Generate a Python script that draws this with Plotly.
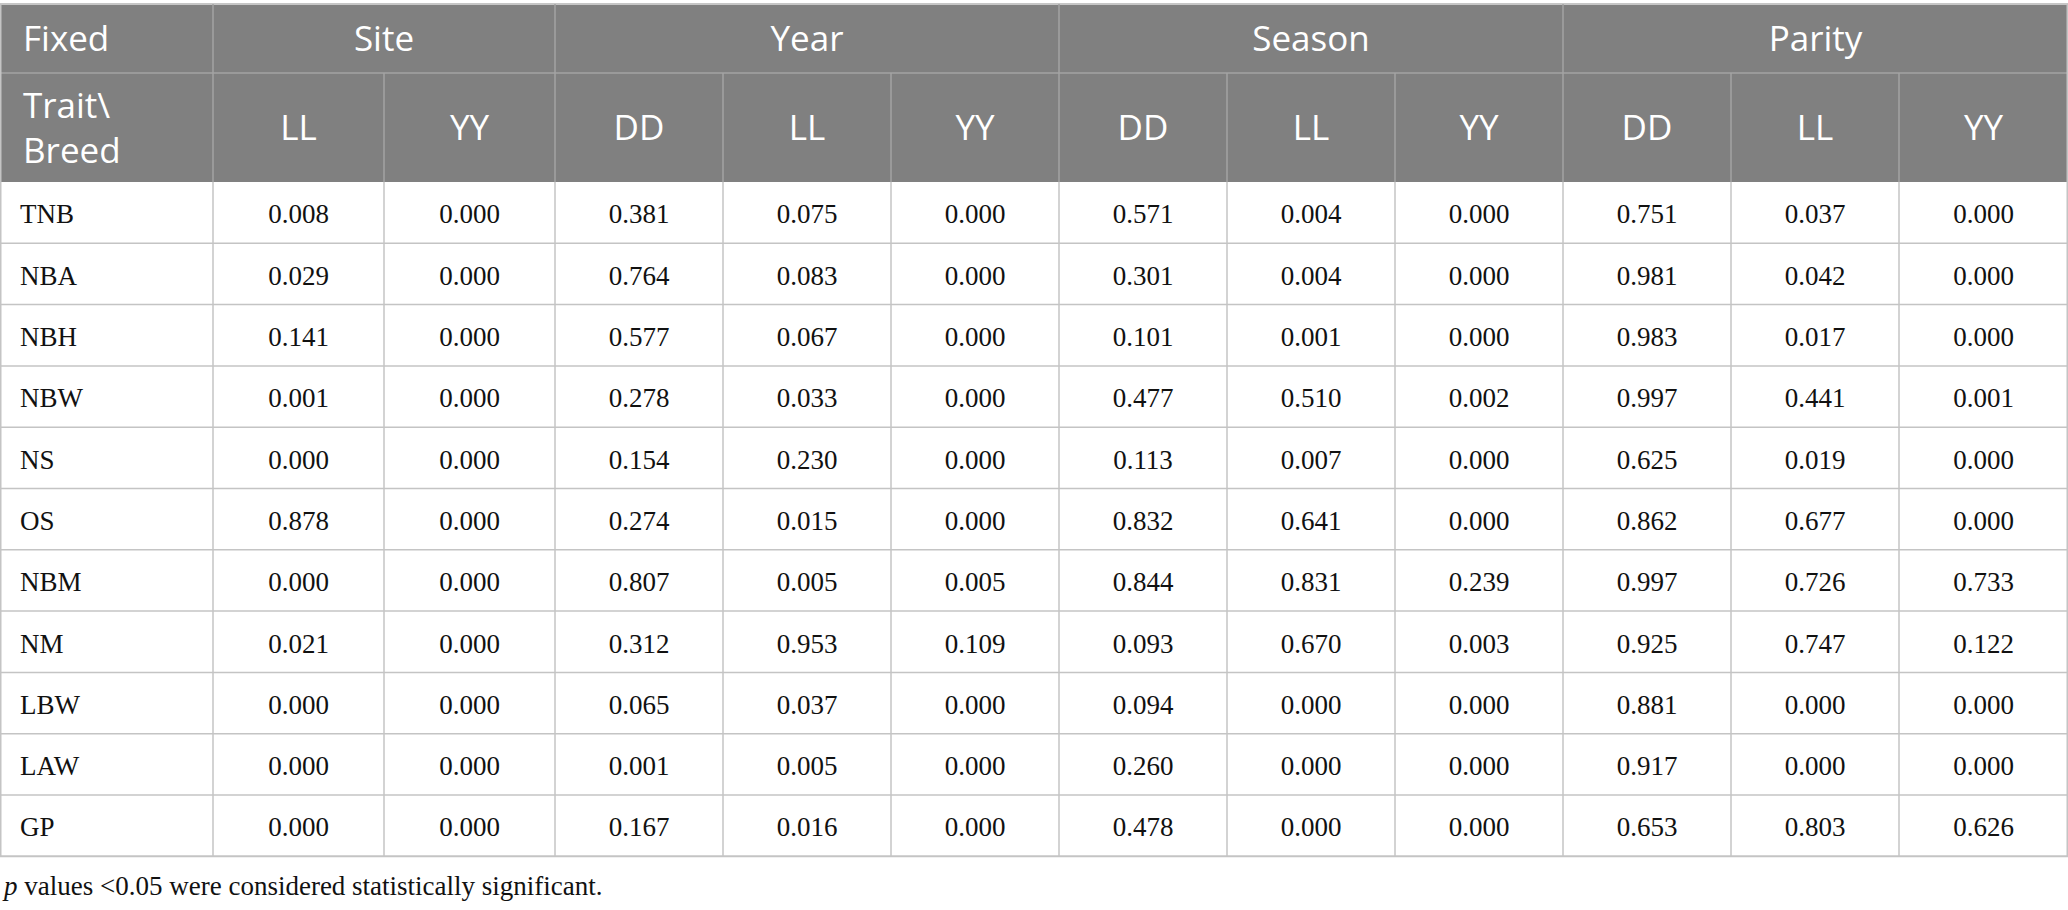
import plotly.graph_objects as go

# p values of fixed effects per trait and breed
factors = ["Site", "Year", "Season", "Parity"]
site_breeds = ["LL", "YY"]
year_breeds = ["DD", "LL", "YY"]
season_breeds = ["DD", "LL", "YY"]
parity_breeds = ["DD", "LL", "YY"]

traits = ["TNB", "NBA", "NBH", "NBW", "NS", "OS", "NBM", "NM", "LBW", "LAW", "GP"]

site_ll = [0.008, 0.029, 0.141, 0.001, 0.000, 0.878, 0.000, 0.021, 0.000, 0.000, 0.000]
site_yy = [0.000, 0.000, 0.000, 0.000, 0.000, 0.000, 0.000, 0.000, 0.000, 0.000, 0.000]
year_dd = [0.381, 0.764, 0.577, 0.278, 0.154, 0.274, 0.807, 0.312, 0.065, 0.001, 0.167]
year_ll = [0.075, 0.083, 0.067, 0.033, 0.230, 0.015, 0.005, 0.953, 0.037, 0.005, 0.016]
year_yy = [0.000, 0.000, 0.000, 0.000, 0.000, 0.000, 0.005, 0.109, 0.000, 0.000, 0.000]
season_dd = [0.571, 0.301, 0.101, 0.477, 0.113, 0.832, 0.844, 0.093, 0.094, 0.260, 0.478]
season_ll = [0.004, 0.004, 0.001, 0.510, 0.007, 0.641, 0.831, 0.670, 0.000, 0.000, 0.000]
season_yy = [0.000, 0.000, 0.000, 0.002, 0.000, 0.000, 0.239, 0.003, 0.000, 0.000, 0.000]
parity_dd = [0.751, 0.981, 0.983, 0.997, 0.625, 0.862, 0.997, 0.925, 0.881, 0.917, 0.653]
parity_ll = [0.037, 0.042, 0.017, 0.441, 0.019, 0.677, 0.726, 0.747, 0.000, 0.000, 0.803]
parity_yy = [0.000, 0.000, 0.000, 0.001, 0.000, 0.000, 0.733, 0.122, 0.000, 0.000, 0.626]

corner_top = "Fixed"
corner_sub = "Trait\\<br>Breed"
footnote = "<i>p</i> values &lt;0.05 were considered statistically significant."

# layout (pixels)
W, H = 2068, 910
HEAD_GRAY = "#808080"
HEAD_LINE = "#a3a3a3"
TOP_LINE = "#c6c6c6"
CELL_LINE = "#c4c4c4"
TEXT = "#111111"
SANS = "Open Sans"
SERIF = "Liberation Serif"
HEAD_SIZE = 35
CELL_SIZE = 27
PAD = 21
TEXT_DY = 4  # text boxes include descent, nudge down to centre the glyphs

first_w = 213
sub_w = [171, 171] + [168] * 8 + [169]
y_top = 4
top_h = 69
sub_h = 109
row_h = 61.3
foot_y = 886

breed_cols = site_breeds + year_breeds + season_breeds + parity_breeds
value_cols = [site_ll, site_yy, year_dd, year_ll, year_yy,
              season_dd, season_ll, season_yy, parity_dd, parity_ll, parity_yy]
group_sizes = [len(site_breeds), len(year_breeds), len(season_breeds), len(parity_breeds)]

# column boundaries
xb = [0, first_w]
for w in sub_w:
    xb.append(xb[-1] + w)
sub_centers = [(xb[k + 1] + xb[k + 2]) / 2 for k in range(len(sub_w))]

group_edges = [first_w]
k = 1
for n in group_sizes:
    k += n
    group_edges.append(xb[k])
group_centers = [(group_edges[g] + group_edges[g + 1]) / 2 for g in range(len(group_sizes))]

y_h1 = y_top + top_h
y_h2 = y_h1 + sub_h
row_edges = [y_h2 + r * row_h for r in range(len(traits) + 1)]
row_centers = [(row_edges[r] + row_edges[r + 1]) / 2 + TEXT_DY for r in range(len(traits))]
y_bottom = row_edges[-1]

fig = go.Figure()

shapes = []
# header background
shapes.append(dict(type="rect", x0=0, x1=W, y0=y_top, y1=y_h2,
                   fillcolor=HEAD_GRAY, line_width=0, layer="below"))


def hline(y, x0, x1, color, width=1.5):
    shapes.append(dict(type="line", x0=x0, x1=x1, y0=y, y1=y,
                       line=dict(color=color, width=width)))


def vline(x, y0, y1, color, width=1.5):
    shapes.append(dict(type="line", x0=x, x1=x, y0=y0, y1=y1,
                       line=dict(color=color, width=width)))


hline(y_top, 0, W, TOP_LINE, 2)
hline(y_h1, 0, W, HEAD_LINE)
for x in group_edges[1:-1] + [first_w]:
    vline(x, y_top, y_h1, HEAD_LINE)
for x in xb[1:-1]:
    vline(x, y_h1, y_h2, HEAD_LINE)

for y in row_edges[1:-1]:
    hline(y, 0, W, CELL_LINE)
hline(y_bottom, 0, W, CELL_LINE, 2)
for x in xb[1:-1]:
    vline(x, y_h2, y_bottom, CELL_LINE)
vline(0.75, y_top, y_bottom, CELL_LINE)
vline(W - 0.75, y_top, y_bottom, CELL_LINE)

# header text: merged row
fig.add_trace(go.Scatter(
    x=[PAD + 2] + group_centers,
    y=[(y_top + y_h1) / 2 + TEXT_DY] * (len(factors) + 1),
    text=[corner_top] + factors,
    mode="text",
    textposition=["middle right"] + ["middle center"] * len(factors),
    textfont=dict(family=SANS, size=HEAD_SIZE, color="white"),
    hoverinfo="skip", showlegend=False,
))

# header text: breed row
fig.add_trace(go.Scatter(
    x=[PAD + 2] + sub_centers,
    y=[(y_h1 + y_h2) / 2 + TEXT_DY] * (len(breed_cols) + 1),
    text=[corner_sub] + breed_cols,
    mode="text",
    textposition=["middle right"] + ["middle center"] * len(breed_cols),
    textfont=dict(family=SANS, size=HEAD_SIZE, color="white"),
    hoverinfo="skip", showlegend=False,
))

# trait labels
fig.add_trace(go.Scatter(
    x=[PAD - 1] * len(traits), y=row_centers, text=traits,
    mode="text", textposition="middle right",
    textfont=dict(family=SERIF, size=CELL_SIZE, color=TEXT),
    hoverinfo="skip", showlegend=False,
))

# p values
for xc, vals in zip(sub_centers, value_cols):
    fig.add_trace(go.Scatter(
        x=[xc] * len(vals), y=row_centers,
        text=[f"{v:.3f}" for v in vals],
        mode="text", textposition="middle center",
        textfont=dict(family=SERIF, size=CELL_SIZE, color=TEXT),
        hoverinfo="skip", showlegend=False,
    ))

fig.add_annotation(
    text=footnote, xref="x", yref="y", x=0, y=foot_y,
    xanchor="left", yanchor="middle", showarrow=False,
    font=dict(family=SERIF, size=CELL_SIZE, color=TEXT),
)

fig.update_layout(
    width=W, height=H,
    margin=dict(l=0, r=0, t=0, b=0),
    paper_bgcolor="white",
    plot_bgcolor="white",
    shapes=shapes,
    xaxis=dict(range=[0, W], visible=False, fixedrange=True),
    yaxis=dict(range=[H, 0], visible=False, fixedrange=True),
)

fig.write_html("out.html", config={"displayModeBar": False},
               post_script="document.body.style.margin='0';")
